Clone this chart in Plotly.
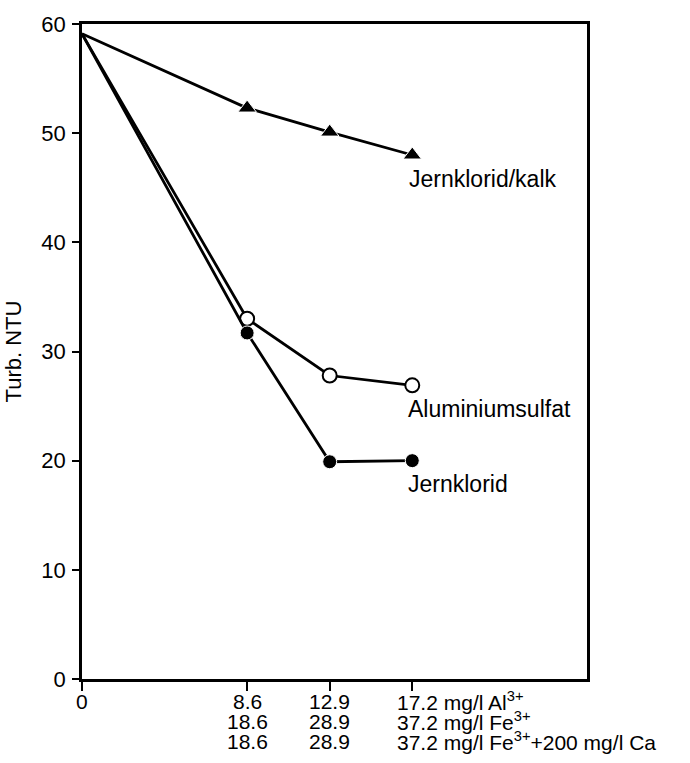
import plotly.graph_objects as go

# Dose steps (mg/l Al3+ axis) and turbidity readings
dose = [0, 8.6, 12.9, 17.2]
jernklorid_kalk = [59.1, 52.3, 50.1, 48.0]
aluminiumsulfat = [59.1, 33.0, 27.8, 26.9]
jernklorid = [59.1, 31.7, 19.9, 20.0]

series_names = ["Jernklorid/kalk", "Aluminiumsulfat", "Jernklorid"]

# Tick label rows under the x axis
row_al = ["0", "8.6", "12.9", "17.2 mg/l Al<sup>3+</sup>"]
row_fe = ["", "18.6", "28.9", "37.2 mg/l Fe<sup>3+</sup>"]
row_feca = ["", "18.6", "28.9", "37.2 mg/l Fe<sup>3+</sup>+200 mg/l Ca"]

y_ticks = [0, 10, 20, 30, 40, 50, 60]

FONT = "Liberation Sans, Arial, Helvetica, sans-serif"
LW = 2.8

# No marker on the common starting point
def msizes(s):
    return [0] + [s] * (len(dose) - 1)

fig = go.Figure()

fig.add_trace(go.Scatter(
    x=dose, y=jernklorid_kalk, mode="lines+markers", name=series_names[0],
    line=dict(color="black", width=LW),
    marker=dict(symbol="triangle-up", size=msizes(16), color="black",
                opacity=1),
))
fig.add_trace(go.Scatter(
    x=dose, y=aluminiumsulfat, mode="lines+markers", name=series_names[1],
    line=dict(color="black", width=LW),
    marker=dict(symbol="circle", size=msizes(14), color="white", opacity=1,
                line=dict(color="black", width=2)),
))
fig.add_trace(go.Scatter(
    x=dose, y=jernklorid, mode="lines+markers", name=series_names[2],
    line=dict(color="black", width=LW),
    marker=dict(symbol="circle", size=msizes(14), color="black", opacity=1),
))

# Series labels placed beside the last points
label_pos = [(16.95, 45.8), (16.85, 24.7), (16.85, 17.9)]
for name, (lx, ly) in zip(series_names, label_pos):
    fig.add_annotation(x=lx, y=ly, text=name, showarrow=False,
                       xanchor="left", yanchor="middle",
                       font=dict(family=FONT, size=23, color="black"))

# Three rows of x tick labels
row_shift = [-22, -42, -62]
for rows, ys in zip([row_al, row_fe, row_feca], row_shift):
    for xv, txt in zip(dose, rows):
        if not txt:
            continue
        last = xv == dose[-1]
        fig.add_annotation(
            x=xv, y=0, xref="x", yref="paper", text=txt, showarrow=False,
            xanchor="left" if last else "center", yanchor="middle",
            xshift=-17 if last else 0, yshift=ys,
            font=dict(family=FONT, size=21, color="black"))

fig.update_layout(
    width=690, height=763,
    margin=dict(l=80, r=103, t=15, b=84),
    paper_bgcolor="white", plot_bgcolor="white",
    showlegend=False,
    font=dict(family=FONT, size=22, color="black"),
)

fig.update_xaxes(
    range=[0, 26.3], showgrid=False, zeroline=False,
    tickvals=dose, ticktext=["", "", "", ""],
    ticks="outside", ticklen=9, tickwidth=2.4, tickcolor="black",
    showline=True, linecolor="black", linewidth=2.8, mirror=True,
)
fig.update_yaxes(
    range=[0, 60], showgrid=False, zeroline=False,
    tickvals=y_ticks, ticks="outside", ticklen=7, tickwidth=2.4,
    tickcolor="black", ticklabelstandoff=2,
    showline=True, linecolor="black", linewidth=2.8, mirror=True,
    title=dict(text="Turb. NTU", standoff=14,
               font=dict(family=FONT, size=22, color="black")),
    tickfont=dict(family=FONT, size=22, color="black"),
)

fig.write_html("out.html")
